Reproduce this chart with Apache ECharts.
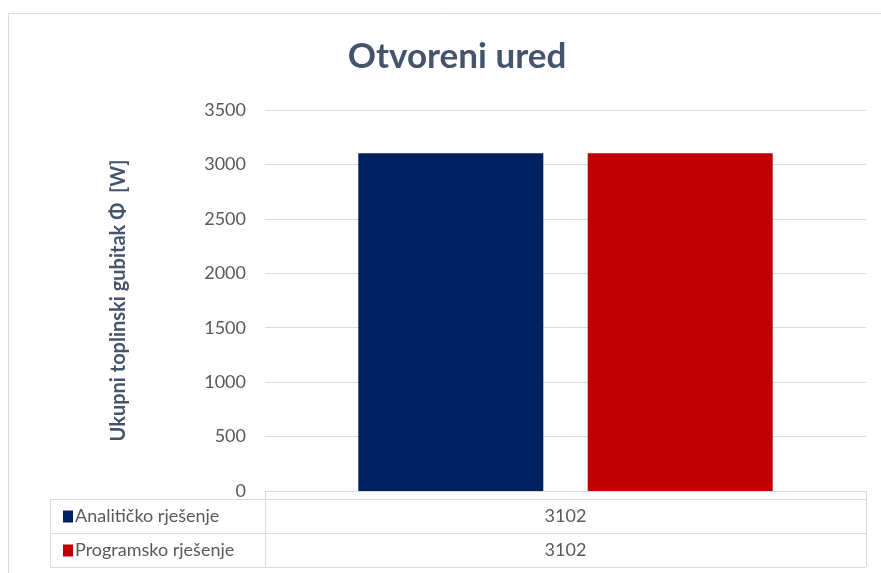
<!DOCTYPE html>
<html>
<head>
<meta charset="utf-8">
<script src="https://cdn.jsdelivr.net/npm/echarts@6/dist/echarts.min.js"></script>
<style>
  html, body { margin: 0; padding: 0; background: #fff; }
  #chart { width: 881px; height: 573px; }
</style>
</head>
<body>
<div id="chart"></div>
<script>
const categories = ['']
const seriesNames = ['Analitičko rješenje', 'Programsko rješenje']
const analiticko = [3102]
const programsko = [3102]
const colors = ['#002060', '#c00000']
const yMax = 3500
const yStep = 500

const font = 'Lato, "Open Sans", sans-serif'
const gridLeft = 265, gridRight = 866, gridTop = 110, gridBottom = 491
const tableLeft = 50, rowH = 34, tableTop = 499
const lineColor = '#d9dde3'

const chart = echarts.init(document.getElementById('chart'))

function hLine(x1, x2, y) {
  return { type: 'line', shape: { x1, y1: y + 0.5, x2, y2: y + 0.5 }, style: { stroke: lineColor, lineWidth: 1 } }
}
function vLine(x, y1, y2) {
  return { type: 'line', shape: { x1: x + 0.5, y1, x2: x + 0.5, y2 }, style: { stroke: lineColor, lineWidth: 1 } }
}

chart.setOption({
  animation: false,
  title: {
    text: 'Otvoreni ured',
    left: 452,
    textAlign: 'center',
    top: 34,
    textStyle: { fontFamily: font, fontSize: 35, fontWeight: 'bold', color: '#44546a' }
  },
  legend: {
    orient: 'vertical',
    left: tableLeft + 8,
    top: tableTop + 2,
    itemGap: 13,
    itemWidth: 10,
    itemHeight: 12,
    icon: 'rect',
    selectedMode: false,
    data: seriesNames,
    textStyle: { fontFamily: font, fontSize: 18, lineHeight: 21, color: '#595959', padding: [0, 0, 0, -3] }
  },
  grid: {
    left: gridLeft,
    right: 881 - gridRight,
    top: gridTop,
    bottom: 573 - gridBottom
  },
  xAxis: {
    type: 'category',
    data: categories,
    axisLine: { lineStyle: { color: lineColor } },
    axisTick: { show: false },
    axisLabel: {
      margin: 8,
      lineHeight: rowH,
      fontFamily: font,
      fontSize: 18,
      color: '#595959',
      formatter: (v, i) => [analiticko[i], programsko[i]].join('\n')
    }
  },
  yAxis: {
    type: 'value',
    min: 0,
    max: yMax,
    interval: yStep,
    name: 'Ukupni toplinski gubitak Φ  [W]',
    nameLocation: 'middle',
    nameGap: 136,
    nameTextStyle: { fontFamily: font, fontSize: 20, fontWeight: 'bold', color: '#44546a' },
    axisLine: { show: false },
    axisTick: { show: false },
    axisLabel: { margin: 19, fontFamily: font, fontSize: 18, color: '#595959', formatter: v => String(v) },
    splitLine: { lineStyle: { color: lineColor } }
  },
  series: [
    {
      name: seriesNames[0],
      type: 'bar',
      data: analiticko,
      barWidth: 185,
      barGap: '24%',
      itemStyle: { color: colors[0] }
    },
    {
      name: seriesNames[1],
      type: 'bar',
      data: programsko,
      barWidth: 185,
      itemStyle: { color: colors[1] }
    }
  ],
  graphic: [
    // chart frame
    hLine(8, 881, 13),
    vLine(8, 13, 573),
    // data table
    hLine(tableLeft, gridRight, tableTop),
    hLine(tableLeft, gridRight, tableTop + rowH),
    hLine(tableLeft, gridRight, tableTop + rowH * 2),
    vLine(tableLeft, tableTop, tableTop + rowH * 2),
    vLine(gridLeft, gridBottom, tableTop + rowH * 2),
    vLine(gridRight, gridBottom, tableTop + rowH * 2)
  ]
})
</script>
</body>
</html>
